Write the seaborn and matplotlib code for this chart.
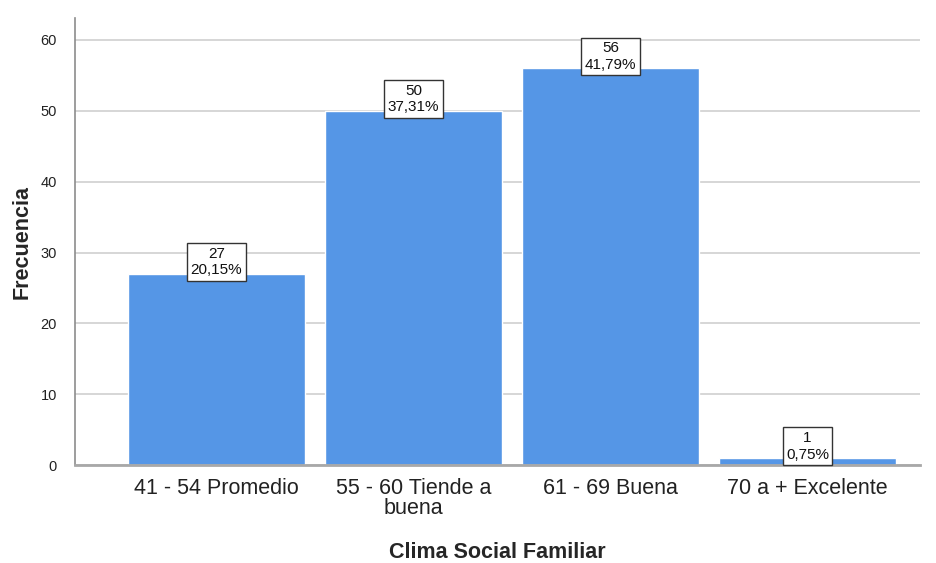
import matplotlib
matplotlib.use("Agg")
import matplotlib.pyplot as plt
import seaborn as sns
import pandas as pd

# data
categorias = ["41 - 54 Promedio", "55 - 60 Tiende a\nbuena", "61 - 69 Buena", "70 a + Excelente"]
frecuencias = [27, 50, 56, 1]
porcentajes = ["20,15%", "37,31%", "41,79%", "0,75%"]

sns.set_style("white")
plt.rcParams["font.family"] = ["Liberation Sans", "DejaVu Sans"]

df = pd.DataFrame({"cat": categorias, "n": frecuencias})

fig = plt.figure(figsize=(9.37, 5.63), dpi=100)
ax = fig.add_axes([0.080, 0.174, 0.902, 0.794])

sns.barplot(data=df, x="cat", y="n", color="#5596E6", saturation=1,
            width=0.898, ax=ax, zorder=2)

ax.set_ylim(0, 63.1)
ax.set_xlim(-0.718, 3.571)
ax.set_yticks(range(0, 61, 10))
ax.yaxis.grid(True, color="#cfcfcf", linewidth=1.2, zorder=0)
ax.set_axisbelow(True)

for side in ["top", "right"]:
    ax.spines[side].set_visible(False)
ax.spines["left"].set_color("#8c8c8c")
ax.spines["left"].set_linewidth(1.2)
ax.spines["bottom"].set_color("#a8a8a8")
ax.spines["bottom"].set_linewidth(2)

ax.tick_params(axis="y", length=0, pad=13, labelsize=10.5, labelcolor="#222222")
ax.tick_params(axis="x", length=0, pad=9, labelsize=15.5, labelcolor="#222222")
for lbl in ax.get_xticklabels():
    lbl.set_linespacing(0.95)

ax.set_ylabel("Frecuencia", fontsize=15.5, fontweight="bold", va="center")
ax.yaxis.set_label_coords(-0.063, 0.5)
ax.set_xlabel("Clima Social Familiar", fontsize=15.5, fontweight="bold", va="center")
ax.xaxis.set_label_coords(0.5, -0.195)

for i, (n, p) in enumerate(zip(frecuencias, porcentajes)):
    ax.annotate(f"{n}\n{p}", (i, n), xytext=(0, 8.5), textcoords="offset points",
                ha="center", va="center", fontsize=11, linespacing=1.25,
                color="#111111", zorder=5,
                bbox=dict(boxstyle="square,pad=0.22", fc="white", ec="#333333", lw=1))

fig.savefig("out.png", dpi=100)
